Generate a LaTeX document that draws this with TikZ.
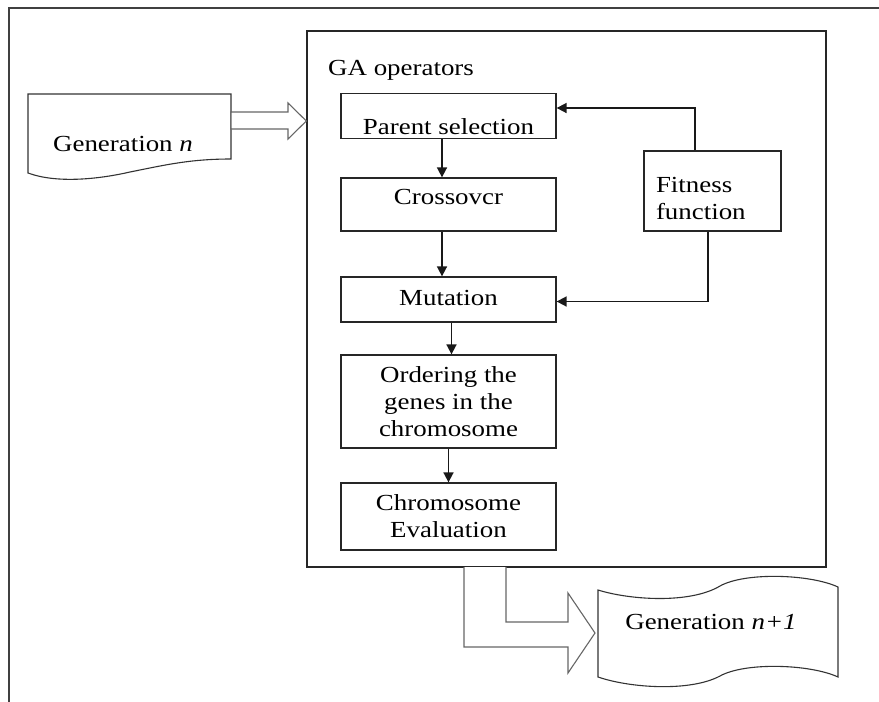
\documentclass[tikz,border=0pt]{standalone}
\usepackage{fontspec}
\setmainfont[FakeStretch=1.17]{Liberation Serif}
\usetikzlibrary{arrows.meta,calc}
\begin{document}
\begin{tikzpicture}[x=1pt,y=-1pt,
  font=\fontsize{23}{27}\selectfont,
  box/.style={draw=black!85, line width=1.3pt, fill=white, inner sep=0pt},
  arr/.style={draw=black!90, line width=1.7pt, -{Triangle[length=10pt,width=10pt]}},
  blk/.style={draw=black!60, line width=1.1pt, fill=white, line join=miter},
  doc/.style={draw=black!80, line width=1.1pt, fill=white},
  lbl/.style={inner sep=0pt, align=center}]
\useasboundingbox (0,0) rectangle (879,702);
% outer frame
\draw[draw=black!75, line width=1.3pt] (879,8) -- (9,8) -- (9,702);

% GA operators box
\node[box, minimum width=519pt, minimum height=536pt] (ga) at (566.5,299) {};
\node[anchor=west, inner sep=0pt] (gat) at (328,70) {GA operators};

% inner boxes
\node[box, minimum width=215pt, minimum height=45pt,
  label={[lbl, yshift=-11pt]center:Parent selection}] (ps) at (448.5,116) {};
\node[box, minimum width=215pt, minimum height=53pt,
  label={[lbl, yshift=8pt]center:Crossovcr}] (cr) at (448.5,204.5) {};
\node[box, minimum width=215pt, minimum height=45pt,
  label={[lbl, yshift=2pt]center:Mutation}] (mu) at (448.5,299.5) {};
\node[box, minimum width=215pt, minimum height=93pt, align=center] (od) at (448.5,401.5)
  {Ordering the\\genes in the\\chromosome};
\node[box, minimum width=215pt, minimum height=67pt, align=center] (ev) at (448.5,516.5)
  {Chromosome\\Evaluation};
\node[box, minimum width=137pt, minimum height=80pt,
  label={[lbl, text width=113pt, align=left, yshift=-7pt]center:Fitness\\function}] (fit) at (712.5,191) {};

% arrows
\draw[arr] ([xshift=-6.5pt]ps.south) -- ([xshift=-6.5pt]cr.north);
\draw[arr] ([xshift=-6.5pt]cr.south) -- ([xshift=-6.5pt]mu.north);
\draw[arr] ([xshift=3pt]mu.south) -- ([xshift=3pt]od.north);
\draw[arr] ([xshift=0pt]od.south) -- ([xshift=0pt]ev.north);
\draw[arr] ([xshift=-17.5pt]fit.north) |- ([yshift=8pt]ps.east);
\draw[arr] ([xshift=-4.5pt]fit.south) |- ([yshift=-2pt]mu.east);

% Generation n
\draw[doc] (28,94) -- (231,94) -- (231,159)
  .. controls (190,159) and (165,165) .. (130,172)
  .. controls (95,180) and (55,183) .. (28,173) -- cycle;
\node[inner sep=0pt] (gen) at (123,144) {Generation \textit{n}};
\draw[blk] (231,112) -- (288,112) -- (288,103) -- (ga.west |- 0,121) -- (288,139) -- (288,129) -- (231,129) -- cycle;

% Generation n+1
\draw[doc] (598,590) .. controls (630,600) and (690,604) .. (720,586)
  .. controls (745,572) and (810,574) .. (838,587) -- (838,677)
  .. controls (810,664) and (745,662) .. (720,676)
  .. controls (690,692) and (630,688) .. (598,677) -- cycle;
\node[inner sep=0pt] (gen1) at (711,622) {Generation \textit{n+1}};
\draw[blk] (464,567) -- (464,647) -- (568,647) -- (568,673) -- (595,633) -- (568,593)
  -- (568,622) -- (506,622) -- (506,567);
\end{tikzpicture}
\end{document}
